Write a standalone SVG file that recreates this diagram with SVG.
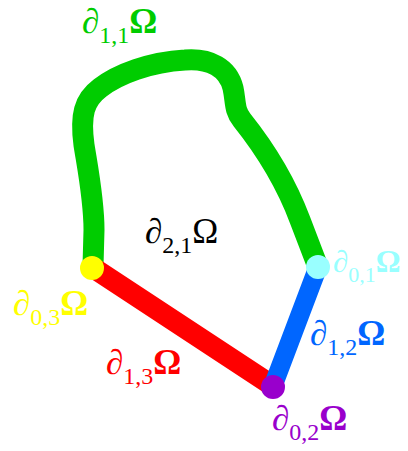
<svg xmlns="http://www.w3.org/2000/svg" width="408" height="451" viewBox="0 0 408 451">
<style>
  .lbl { font-family: "Liberation Serif", "Times New Roman", serif; font-size: 35px; }
  .sub { font-size: 24px; }
  .om { font-weight: bold; }
  .small { font-size: 31px; }
  .small .sub { font-size: 22px; }
  .edge { fill: none; stroke-linecap: round; stroke-linejoin: round; }
</style>
<rect width="408" height="451" fill="#ffffff"/>
<g id="connectors">
  <path id="e11" class="edge" stroke="#00cc00" stroke-width="21" d="M93,266 L94,230 C94,200 88,170 84,145 C80,115 84,100 100,88 C118,74 150,62 185,60 C210,58 228,68 233,88 C236,102 234,110 242,120 C262,145 285,180 300,220 L318,267"/>
  <line id="e13" class="edge" stroke="#ff0000" stroke-width="21" x1="92" y1="267" x2="273" y2="386"/>
  <line id="e12" class="edge" stroke="#0066ff" stroke-width="19" x1="273" y1="386" x2="318" y2="267"/>
</g>
<g id="v03"><circle cx="92" cy="268" r="12" fill="#ffff00"/></g>
<g id="v01"><circle cx="318" cy="267" r="12" fill="#99ffff"/></g>
<g id="v02"><circle cx="273" cy="387" r="12" fill="#9900cc"/></g>
<g id="labels">
  <text class="lbl" x="82" y="33" fill="#00cc00">∂<tspan class="sub" dy="10">1,1</tspan><tspan class="om" dy="-10">Ω</tspan></text>
  <text class="lbl" x="145" y="243" fill="#000000">∂<tspan class="sub" dy="10">2,1</tspan><tspan dy="-10">Ω</tspan></text>
  <text class="lbl small" x="333" y="272" fill="#99ffff">∂<tspan class="sub" dy="10">0,1</tspan><tspan class="om" dy="-10">Ω</tspan></text>
  <text class="lbl" x="13" y="315" fill="#ffff00">∂<tspan class="sub" dy="10">0,3</tspan><tspan class="om" dy="-10">Ω</tspan></text>
  <text class="lbl" x="310" y="345" fill="#0066ff">∂<tspan class="sub" dy="10">1,2</tspan><tspan class="om" dy="-10">Ω</tspan></text>
  <text class="lbl" x="106" y="374" fill="#ff0000">∂<tspan class="sub" dy="10">1,3</tspan><tspan class="om" dy="-10">Ω</tspan></text>
  <text class="lbl" x="272" y="430" fill="#9900cc">∂<tspan class="sub" dy="10">0,2</tspan><tspan class="om" dy="-10">Ω</tspan></text>
</g>
</svg>
